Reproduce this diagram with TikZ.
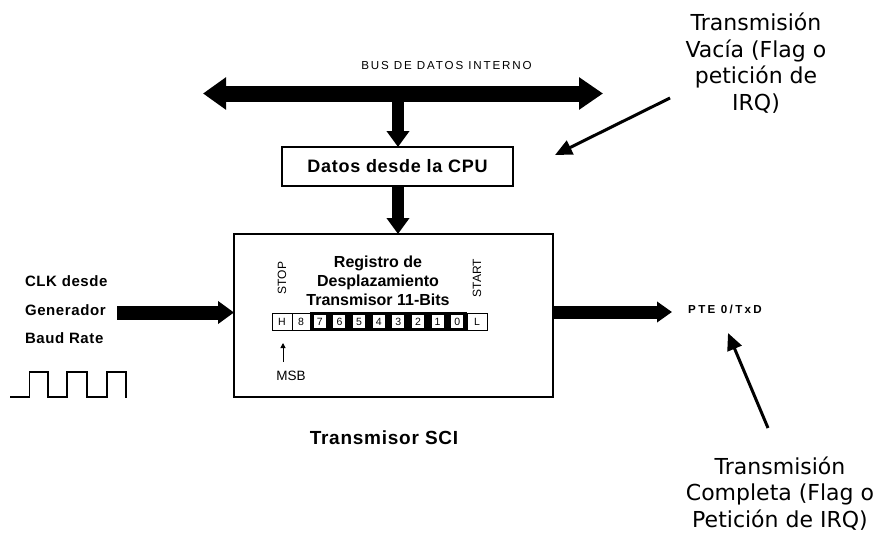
\documentclass[tikz,border=0pt]{standalone}
\usepackage{fontspec}
\setmainfont{Liberation Sans}
\newfontfamily\verd{DejaVu Sans}
\newfontfamily\lsA{Liberation Sans}[LetterSpace=16]
\newfontfamily\lsB{Liberation Sans}[LetterSpace=4]
\newfontfamily\lsC{Liberation Sans}[LetterSpace=20]
\usetikzlibrary{arrows.meta,calc}
\begin{document}
\begin{tikzpicture}[x=1pt,y=-1pt,
  every node/.style={inner sep=0pt,outer sep=0pt},
  boxstyle/.style={draw=black,line width=1.5pt,fill=white},
  cellbox/.style={draw=black,line width=0.8pt,fill=white,minimum height=17pt,font=\fontsize{10.5}{12}\selectfont},
  wcell/.style={fill=white,minimum width=12pt,minimum height=12.5pt,font=\fontsize{10.5}{12}\selectfont},
  vfat/.style={line width=12pt,-{Triangle[length=16pt,width=22pt]}},
  hfatin/.style={line width=14pt,-{Triangle[length=16pt,width=22pt]}},
  hfatout/.style={line width=13pt,-{Triangle[length=15pt,width=20pt]}},
  thinarrow/.style={line width=3pt,-{Triangle[length=17pt,width=15pt]}},
  annot/.style={font=\verd\fontsize{22}{26.5}\selectfont,align=center,anchor=base}
]
\useasboundingbox (0,0) rectangle (880,535);

% bus
\coordinate (busL) at (203,93.5);
\coordinate (busR) at (603,93.5);
\coordinate (busmid) at (398,100);
\draw[line width=16pt,{Triangle[length=23pt,width=31pt]}-{Triangle[length=24pt,width=31pt]}] (busL) -- (busR);
\node[font=\lsA\fontsize{11.6}{14}\selectfont,anchor=base] (buslbl) at (446.5,70) {BUS DE DATOS INTERNO};

% Datos desde la CPU
\node[boxstyle,minimum width=231pt,minimum height=39pt,font=\lsB\bfseries\fontsize{18}{22}\selectfont] (datos) at (397.5,166.5) {Datos desde la CPU};
\draw[vfat] (busmid) -- (busmid |- datos.north);

% main box
\node[boxstyle,minimum width=319pt,minimum height=163pt] (sci) at (393.5,315.5) {};
\draw[vfat] (busmid |- datos.south) -- (busmid |- sci.north);

% register title (base anchor = baseline of last line)
\node[font=\bfseries\fontsize{16}{19}\selectfont,align=center,anchor=base] (regtxt) at (378,305) {Registro de\\Desplazamiento\\Transmisor 11-Bits};
\node[rotate=90,font=\fontsize{12}{14}\selectfont] (stop) at (282,278) {STOP};
\node[rotate=90,font=\fontsize{12}{14}\selectfont] (start) at (477,278) {START};

% register cells
\node[cellbox,minimum width=20pt] (cH) at (282,321.5) {H};
\node[cellbox,minimum width=18pt] (c8) at (301,321.5) {8};
\node[fill=black,minimum width=157pt,minimum height=19pt] (blk) at (388.5,321.5) {};
\foreach \d [count=\i from 0] in {7,6,5,4,3,2,1,0} {
  \node[wcell] (c\d) at ({310+19.625*(\i+0.5)},321.5) {\d};
}
\node[cellbox,minimum width=20pt] (cL) at (477,321.5) {L};

% MSB
\node[font=\fontsize{13.5}{16}\selectfont,anchor=base] (msb) at (291,380) {MSB};
\coordinate (msbtail) at (283,362);
\coordinate (msbtip) at (283,343);
\draw[line width=1pt,-{Triangle[length=5pt,width=5pt]}] (msbtail) -- (msbtip);

% transmisor label
\node[font=\lsB\bfseries\fontsize{19}{23}\selectfont,anchor=base] (scilbl) at (384,444) {Transmisor SCI};

% clock input
\node[font=\lsB\bfseries\fontsize{15}{18}\selectfont,anchor=base west] (clk1) at (25,286) {CLK desde};
\node[font=\lsB\bfseries\fontsize{15}{18}\selectfont,anchor=base west] (clk2) at (25,315) {Generador};
\node[font=\lsB\bfseries\fontsize{15}{18}\selectfont,anchor=base west] (clk3) at (25,343) {Baud Rate};
\coordinate (clkin) at (117,312.5);
\draw[hfatin] (clkin) -- (sci.west |- clkin);
\draw[line width=1.2pt] (10,397) -- (29.5,397) -- (29.5,372) -- (48,372) -- (48,397) -- (67,397) -- (67,372) -- (87,372) -- (87,397) -- (107,397) -- (107,372) -- (126,372) -- (126,398);

% output
\coordinate (txd) at (672,312);
\draw[hfatout] (sci.east |- txd) -- (txd);
\node[font=\lsC\bfseries\fontsize{11.6}{14}\selectfont,anchor=base] (pte) at (725,313) {PTE 0/TxD};

% annotations (base anchor = baseline of last line)
\node[annot] (vacia) at (756,110) {Transmisión\\Vacía (Flag o\\petición de\\IRQ)};
\coordinate (vtail) at (670,98);
\coordinate (vtip) at (555,155);
\draw[thinarrow] (vtail) -- (vtip);

\node[annot] (compl) at (780,527) {Transmisión\\Completa (Flag o\\Petición de IRQ)};
\coordinate (ctail) at (768,428);
\coordinate (ctip) at (728,333);
\draw[thinarrow] (ctail) -- (ctip);
\end{tikzpicture}
\end{document}
